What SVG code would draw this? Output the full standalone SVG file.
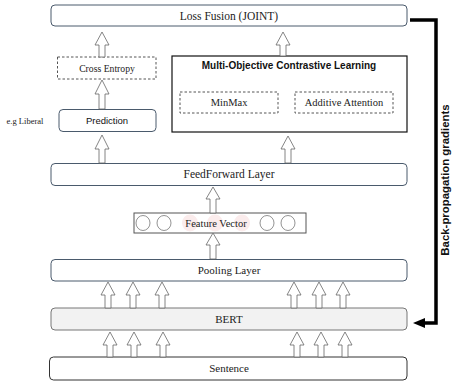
<svg xmlns="http://www.w3.org/2000/svg" width="452" height="388" viewBox="0 0 452 388">
<style>
.box{fill:#fff;stroke:#4a5a6c;stroke-width:1}
.dash{fill:#fff;stroke:#555;stroke-width:1;stroke-dasharray:2.5,2}
.serif{font-family:"Liberation Serif","Times New Roman",serif;fill:#222;text-anchor:middle}
.sans{font-family:"Liberation Sans",Arial,sans-serif;fill:#111;text-anchor:middle}
.arr{fill:#fff;stroke:#666;stroke-width:0.8;stroke-linejoin:miter}
.ov{fill:#fff;stroke:#777;stroke-width:0.8}
.faint{fill:#fbecec;stroke:none}
</style>
<defs>
<marker id="ah" markerUnits="userSpaceOnUse" markerWidth="12" markerHeight="10" refX="0" refY="5" orient="auto">
<path d="M0,0 L12,5 L0,10 Z" fill="#000"/>
</marker>
</defs>
<rect width="452" height="388" fill="#fff"/>

<g id="loss-fusion">
<rect class="box" x="51" y="5" width="356" height="21" rx="4"/>
<text class="serif" x="229" y="19.5" font-size="11.5">Loss Fusion (JOINT)</text>
</g>
<g id="cross-entropy">
<rect class="dash" x="57.5" y="57" width="98.5" height="22"/>
<text class="serif" x="107" y="71.5" font-size="9.7">Cross Entropy</text>
</g>
<g id="prediction">
<rect class="box" x="59" y="109.5" width="97" height="22" rx="4"/>
<text class="sans" x="107" y="124" font-size="9.5">Prediction</text>
</g>
<g id="label">
<text class="serif" x="25" y="124" font-size="8.5">e.g Liberal</text>
</g>
<g id="mocl">
<rect x="172" y="56" width="235" height="76" fill="#fff" stroke="#111" stroke-width="1.2"/>
<text class="sans" x="289" y="69" font-size="10" font-weight="bold">Multi-Objective Contrastive Learning</text>
<g id="minmax">
<rect class="dash" x="180" y="92" width="98" height="21"/>
<text class="serif" x="229" y="106" font-size="10.5">MinMax</text>
</g>
<g id="additive-attention">
<rect class="dash" x="295" y="92" width="98" height="21"/>
<text class="serif" x="344" y="106" font-size="10.5">Additive Attention</text>
</g>
</g>
<g id="feedforward">
<rect class="box" x="51" y="163.5" width="356" height="22" rx="4"/>
<text class="serif" x="229" y="178" font-size="11.5">FeedForward Layer</text>
</g>
<g id="feature-vector">
<rect x="134" y="213" width="172" height="20" fill="#fff" stroke="#555" stroke-width="1"/>
<ellipse class="faint" cx="190" cy="223" rx="8" ry="8.5"/>
<ellipse class="faint" cx="215" cy="223" rx="8" ry="8.5"/>
<ellipse class="faint" cx="242" cy="223" rx="8" ry="8.5"/>
<ellipse class="ov" cx="143" cy="223" rx="7" ry="7.5"/>
<ellipse class="ov" cx="164" cy="223" rx="7" ry="7.5"/>
<ellipse class="ov" cx="267" cy="223" rx="7" ry="7.5"/>
<ellipse class="ov" cx="288" cy="223" rx="7" ry="7.5"/>
<text class="serif" x="216" y="226.5" font-size="10.5">Feature Vector</text>
</g>
<g id="pooling">
<rect class="box" x="51" y="259.5" width="356" height="21.5" rx="4"/>
<text class="serif" x="229" y="274" font-size="11">Pooling Layer</text>
</g>
<g id="bert">
<rect x="51" y="308" width="356" height="22" rx="4" fill="#f2f2f2" stroke="#777" stroke-width="1"/>
<text class="serif" x="229" y="323" font-size="11">BERT</text>
</g>
<g id="sentence">
<rect x="49.5" y="357" width="357.5" height="23" rx="4" fill="#fff" stroke="#333" stroke-width="1"/>
<text class="serif" x="229" y="372" font-size="11">Sentence</text>
</g>

<g id="connectors">
<path class="arr" d="M102,32 L109,45 L105,45 L105,57 L99,57 L99,45 L95,45 Z"/>
<path class="arr" d="M102,80 L109,94 L105,94 L105,109 L99,109 L99,94 L95,94 Z"/>
<path class="arr" d="M283,32 L290,45 L286,45 L286,56 L280,56 L280,45 L276,45 Z"/>
<path class="arr" d="M102,135 L109,149 L105,149 L105,163 L99,163 L99,149 L95,149 Z"/>
<path class="arr" d="M288,136 L295,149 L291,149 L291,163 L285,163 L285,149 L281,149 Z"/>
<path class="arr" d="M213,187 L220,199 L216,199 L216,213 L210,213 L210,199 L206,199 Z"/>
<path class="arr" d="M213,233 L220,245 L216,245 L216,259 L210,259 L210,245 L206,245 Z"/>
<path class="arr" d="M108,282 L115,295 L111,295 L111,308 L105,308 L105,295 L101,295 Z"/>
<path class="arr" d="M133,282 L140,295 L136,295 L136,308 L130,308 L130,295 L126,295 Z"/>
<path class="arr" d="M162,282 L169,295 L165,295 L165,308 L159,308 L159,295 L155,295 Z"/>
<path class="arr" d="M294,282 L301,295 L297,295 L297,308 L291,308 L291,295 L287,295 Z"/>
<path class="arr" d="M319,282 L326,295 L322,295 L322,308 L316,308 L316,295 L312,295 Z"/>
<path class="arr" d="M343,282 L350,295 L346,295 L346,308 L340,308 L340,295 L336,295 Z"/>
<path class="arr" d="M110,332 L117,345 L113,345 L113,357 L107,357 L107,345 L103,345 Z"/>
<path class="arr" d="M134,332 L141,345 L137,345 L137,357 L131,357 L131,345 L127,345 Z"/>
<path class="arr" d="M163,332 L170,345 L166,345 L166,357 L160,357 L160,345 L156,345 Z"/>
<path class="arr" d="M297,332 L304,345 L300,345 L300,357 L294,357 L294,345 L290,345 Z"/>
<path class="arr" d="M321,332 L328,345 L324,345 L324,357 L318,357 L318,345 L314,345 Z"/>
<path class="arr" d="M345,332 L352,345 L348,345 L348,357 L342,357 L342,345 L338,345 Z"/>
<path d="M410,20 L436,20 L436,323 L425,323" fill="none" stroke="#000" stroke-width="3.5" marker-end="url(#ah)"/>
</g>
<g id="backprop-label">
<text class="sans" transform="translate(449,180) rotate(-90)" x="0" y="0" font-size="11.4" font-weight="bold">Back-propagation gradients</text>
</g>
</svg>
